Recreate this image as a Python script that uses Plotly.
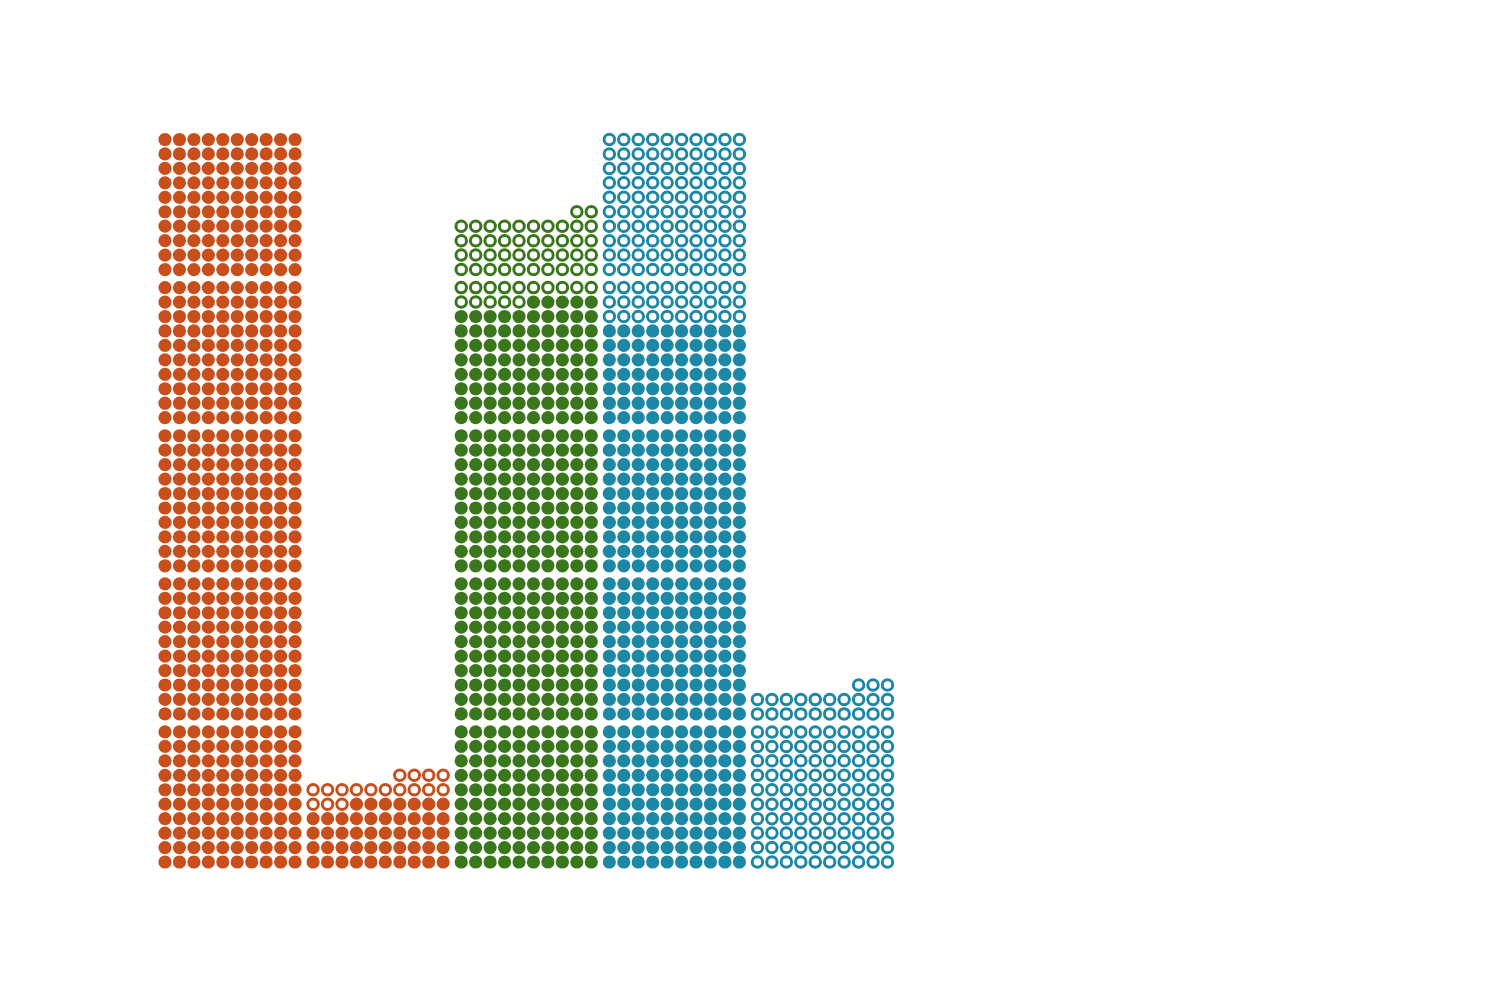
import plotly.graph_objects as go

# Data: one dot per unit
groups = ["A", "B", "C", "D", "E"]
colors = ["#C84F1C", "#C84F1C", "#3A761C", "#1D88A6", "#1D88A6"]
filled_counts = [500, 47, 385, 370, 0]
outline_counts = [0, 17, 57, 130, 123]

PER_ROW = 10
PER_BLOCK = 100
STRIDE = 10.25  # block / column stride in units


def positions(g, start, count):
    xs, ys = [], []
    for k in range(start, start + count):
        block = k // PER_BLOCK
        r = (k % PER_BLOCK) // PER_ROW
        c = PER_ROW - 1 - (k % PER_ROW)
        xs.append(g * STRIDE + c)
        ys.append(block * STRIDE + r)
    return xs, ys


fig = go.Figure()
for g, name in enumerate(groups):
    fx, fy = positions(g, 0, filled_counts[g])
    ox, oy = positions(g, filled_counts[g], outline_counts[g])
    if fx:
        fig.add_trace(go.Scatter(
            x=fx, y=fy, mode="markers", name=name + " filled",
            marker=dict(symbol="circle", size=13.2, color=colors[g], line=dict(width=0)),
            hoverinfo="skip", showlegend=False))
    if ox:
        fig.add_trace(go.Scatter(
            x=ox, y=oy, mode="markers", name=name + " outline",
            marker=dict(symbol="circle-open", size=10.5, color=colors[g], line=dict(width=3, color=colors[g])),
            hoverinfo="skip", showlegend=False))

unit = 14.45
x0, y0 = 165, 862
fig.update_layout(
    width=1500, height=1000,
    margin=dict(l=0, r=0, t=0, b=0),
    paper_bgcolor="white", plot_bgcolor="white",
    xaxis=dict(range=[-x0 / unit, (1500 - x0) / unit], visible=False, fixedrange=True),
    yaxis=dict(range=[-(1000 - y0) / unit, y0 / unit], visible=False, fixedrange=True),
    showlegend=False,
)
fig.write_html("out.html")
